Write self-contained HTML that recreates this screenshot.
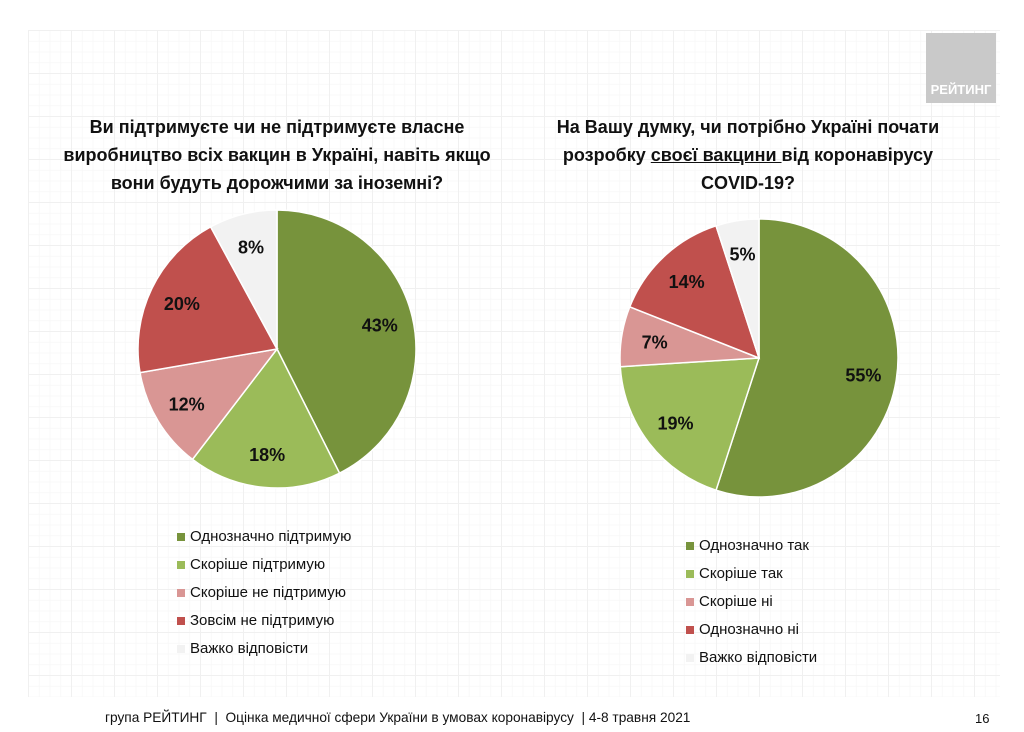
<!DOCTYPE html>
<html><head><meta charset="utf-8"><style>
body{margin:0;width:1024px;height:732px;background:#fff;font-family:"Liberation Sans",sans-serif;position:relative;overflow:hidden}
#grid{position:absolute;left:28px;top:30px;width:972px;height:667px;
background-image:linear-gradient(#f0f0f0 1px,transparent 1px),linear-gradient(90deg,#f0f0f0 1px,transparent 1px),linear-gradient(#f8f8f8 1px,transparent 1px),linear-gradient(90deg,#f8f8f8 1px,transparent 1px);
background-size:43px 43px,43px 43px,10.75px 10.75px,10.75px 10.75px}
.t{position:absolute;font-weight:bold;font-size:18px;text-align:center;line-height:28px;color:#111}
.leg{position:absolute;font-size:15px;color:#111}
.leg div{height:28px;line-height:28px;position:relative;padding-left:13px;white-space:nowrap}
.leg span{position:absolute;left:0;top:10px;width:8px;height:8px}
</style></head><body>
<div id="grid"></div>
<div style="position:absolute;left:926px;top:33px;width:70px;height:70px;background:#c9c9c9;color:#fff;font-weight:bold;font-size:13px;text-align:center;line-height:14px"><div style="position:absolute;bottom:6px;width:100%">РЕЙТИНГ</div></div>
<div class="t" style="left:37px;top:113px;width:480px">Ви підтримуєте чи не підтримуєте власне<br>виробництво всіх вакцин в Україні, навіть якщо<br>вони будуть дорожчими за іноземні?</div>
<div class="t" style="left:508px;top:113px;width:480px">На Вашу думку, чи потрібно Україні почати<br>розробку <u>своєї вакцини </u>від коронавірусу<br>COVID-19?</div>
<svg id="svg" width="1024" height="732" style="position:absolute;left:0;top:0"></svg>
<div class="leg" id="leg1" style="left:177px;top:523px"></div>
<div class="leg" id="leg2" style="left:686px;top:532px"></div>
<div style="position:absolute;left:105px;top:710px;font-size:13.7px;color:#111;white-space:nowrap">група РЕЙТИНГ&nbsp; |&nbsp; Оцінка медичної сфери України в умовах коронавірусу&nbsp; | 4-8 травня 2021</div>
<div style="position:absolute;left:975px;top:711px;font-size:13px;color:#111">16</div>
<script>
const colors=["#77933c","#9bbb59","#d99694","#c0504d","#f2f2f2"];
const labels1=["Однозначно підтримую","Скоріше підтримую","Скоріше не підтримую","Зовсім не підтримую","Важко відповісти"];
const values1=[43,18,12,20,8];
const labels2=["Однозначно так","Скоріше так","Скоріше ні","Однозначно ні","Важко відповісти"];
const values2=[55,19,7,14,5];
const NS="http://www.w3.org/2000/svg";
const svg=document.getElementById('svg');
function pie(vals,cx,cy,r,name){
  const tot=vals.reduce((a,b)=>a+b,0);let a0=0;
  vals.forEach((v,i)=>{
    const a1=a0+v/tot*2*Math.PI;
    const p=(a)=>[cx+r*Math.sin(a),cy-r*Math.cos(a)];
    const [x0,y0]=p(a0),[x1,y1]=p(a1);
    const path=document.createElementNS(NS,'path');
    path.setAttribute('d',`M${cx},${cy}L${x0},${y0}A${r},${r} 0 ${a1-a0>Math.PI?1:0} 1 ${x1},${y1}Z`);
    path.setAttribute('fill',colors[i]);path.setAttribute('stroke','#fff');path.setAttribute('stroke-width','1.5');
    
    
    svg.appendChild(path);
    const m=(a0+a1)/2,lr=r*0.76;
    const t=document.createElementNS(NS,'text');
    t.setAttribute('x',cx+lr*Math.sin(m));t.setAttribute('y',cy-lr*Math.cos(m)+7);
    t.setAttribute('text-anchor','middle');t.setAttribute('font-size','18');t.setAttribute('font-weight','bold');
    t.setAttribute('font-family','Liberation Sans, sans-serif');t.setAttribute('fill','#111');
    t.textContent=v+'%';
    
    
    svg.appendChild(t);
    a0=a1;
  });
}
pie(values1,277,349,139,'left-pie');
pie(values2,759,358,139,'right-pie');
function legend(id,labels,name){
  const el=document.getElementById(id);
  labels.forEach((l,i)=>{
    const d=document.createElement('div');
    
    
    d.innerHTML='<span style="background:'+colors[i]+'"></span>'+l;
    el.appendChild(d);
  });
}
legend('leg1',labels1,'left-legend');
legend('leg2',labels2,'right-legend');
</script>
</body></html>
